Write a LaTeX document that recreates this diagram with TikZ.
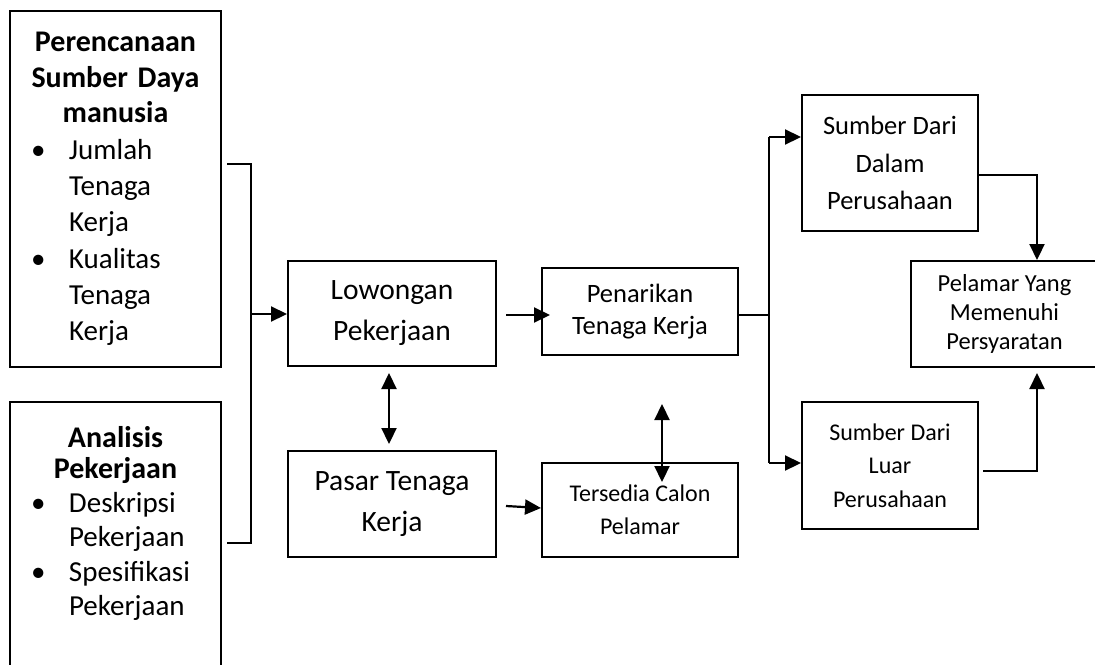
\documentclass[tikz,border=0pt]{standalone}
\usepackage{fontspec}
\setmainfont{Carlito}
\usetikzlibrary{arrows.meta}

\newcommand{\pointitem}[1]{\par\noindent\makebox[59pt][l]{\hspace{21pt}\textbullet}#1}
\newcommand{\pointcont}[1]{\par\noindent\hspace*{59pt}#1}

\tikzset{
  box/.style={draw, line width=2pt, align=center, inner sep=0pt},
  link/.style={line width=2.2pt},
  arr/.style={line width=2.2pt, -{Triangle[length=16pt,width=15pt]}},
  biarr/.style={line width=2.2pt, {Triangle[length=16pt,width=15pt]}-{Triangle[length=16pt,width=15pt]}},
}

\begin{document}
\begin{tikzpicture}[x=1pt,y=-1pt]
\useasboundingbox (0,0) rectangle (1095,664);

% left input boxes
\node[box, minimum width=211pt, minimum height=356pt] (prc) at (115.5,189) {};
\node[font=\fontsize{29}{36.3}\selectfont, text width=211pt, inner sep=0pt] (prctext) at (prc.center) {%
  {\centering\fontsize{30}{35.5}\selectfont\bfseries Perencanaan\par Sumber Daya\par manusia\par}
  \pointitem{Jumlah}
  \pointcont{Tenaga}
  \pointcont{Kerja}
  \pointitem{Kualitas}
  \pointcont{Tenaga}
  \pointcont{Kerja}\par};
\node[box, minimum width=211pt, minimum height=266pt] (ana) at (115.5,535) {};
\node[font=\fontsize{29}{34.3}\selectfont, text width=211pt, inner sep=0pt, anchor=north] (anatext) at (115.5,426) {%
  {\centering\fontsize{30}{31}\selectfont\bfseries Analisis\par Pekerjaan\par}
  \pointitem{Deskripsi}
  \pointcont{Pekerjaan}
  \pointitem{Spesifikasi}
  \pointcont{Pekerjaan}\par};

% middle boxes
\node[box, minimum width=208pt, minimum height=105pt, font=\fontsize{29.5}{41}\selectfont] (low) at (392,313.5) {Lowongan\\Pekerjaan};
\node[box, minimum width=208pt, minimum height=106pt, font=\fontsize{29.5}{41}\selectfont] (psr) at (392,504) {Pasar Tenaga\\Kerja};
\node[box, minimum width=196pt, minimum height=87pt, font=\fontsize{26.5}{31.5}\selectfont] (pnr) at (640,311.5) {Penarikan\\Tenaga Kerja};
\node[box, minimum width=196pt, minimum height=94pt, font=\fontsize{24}{33}\selectfont] (tsd) at (640,510) {Tersedia Calon\\Pelamar};

% right boxes
\node[box, minimum width=176pt, minimum height=136pt, font=\fontsize{26.5}{37.5}\selectfont] (sdd) at (890,163) {Sumber Dari\\Dalam\\Perusahaan};
\node[box, minimum width=176pt, minimum height=127pt, font=\fontsize{24}{33.5}\selectfont] (sdl) at (890,465.5) {Sumber Dari\\Luar\\Perusahaan};
\node[box, minimum width=187pt, minimum height=106pt, font=\fontsize{24.5}{29}\selectfont] (plm) at (1004.5,314) {Pelamar Yang\\Memenuhi\\Persyaratan};

% junction of the two input boxes
\coordinate (jn) at (251,314);
\draw[link] ([xshift=5pt,yshift=25pt]prc.east) -| (jn) |- ([xshift=5pt,yshift=-8pt]ana.east);
\draw[arr] (jn) -- (jn -| low.west);

\draw[arr] ([xshift=9pt,yshift=-1.5pt]low.east) -- ([xshift=9pt,yshift=-1.5pt]low.east -| pnr.west);
\draw[arr] ([xshift=9pt,yshift=-2pt]psr.east) -- ([yshift=2pt]tsd.west);
\draw[biarr] ([xshift=-3pt,yshift=-6pt]low.south) -- ([xshift=-3pt,yshift=6pt]psr.north);
\draw[biarr] ([xshift=22pt,yshift=-48pt]pnr.south) -- ([xshift=22pt,yshift=-20pt]tsd.north);

% branch to the two sources
\coordinate (brtop) at (769,137);
\coordinate (brbot) at (769,463);
\draw[link, line width=1.8pt] ([yshift=-3.5pt]pnr.east) -- ([yshift=-3.5pt]pnr.east -| brtop);
\draw[link] (brtop) -- (brbot);
\draw[arr] (brtop) -- (brtop -| sdd.west);
\draw[arr] (brbot) -- (brbot -| sdl.west);

\draw[arr] ([yshift=-12pt]sdd.east) -| ([xshift=32.5pt]plm.north);
\draw[arr] ([xshift=4pt,yshift=-5.5pt]sdl.east) -| ([xshift=32.5pt,yshift=-5pt]plm.south);
\end{tikzpicture}
\end{document}
